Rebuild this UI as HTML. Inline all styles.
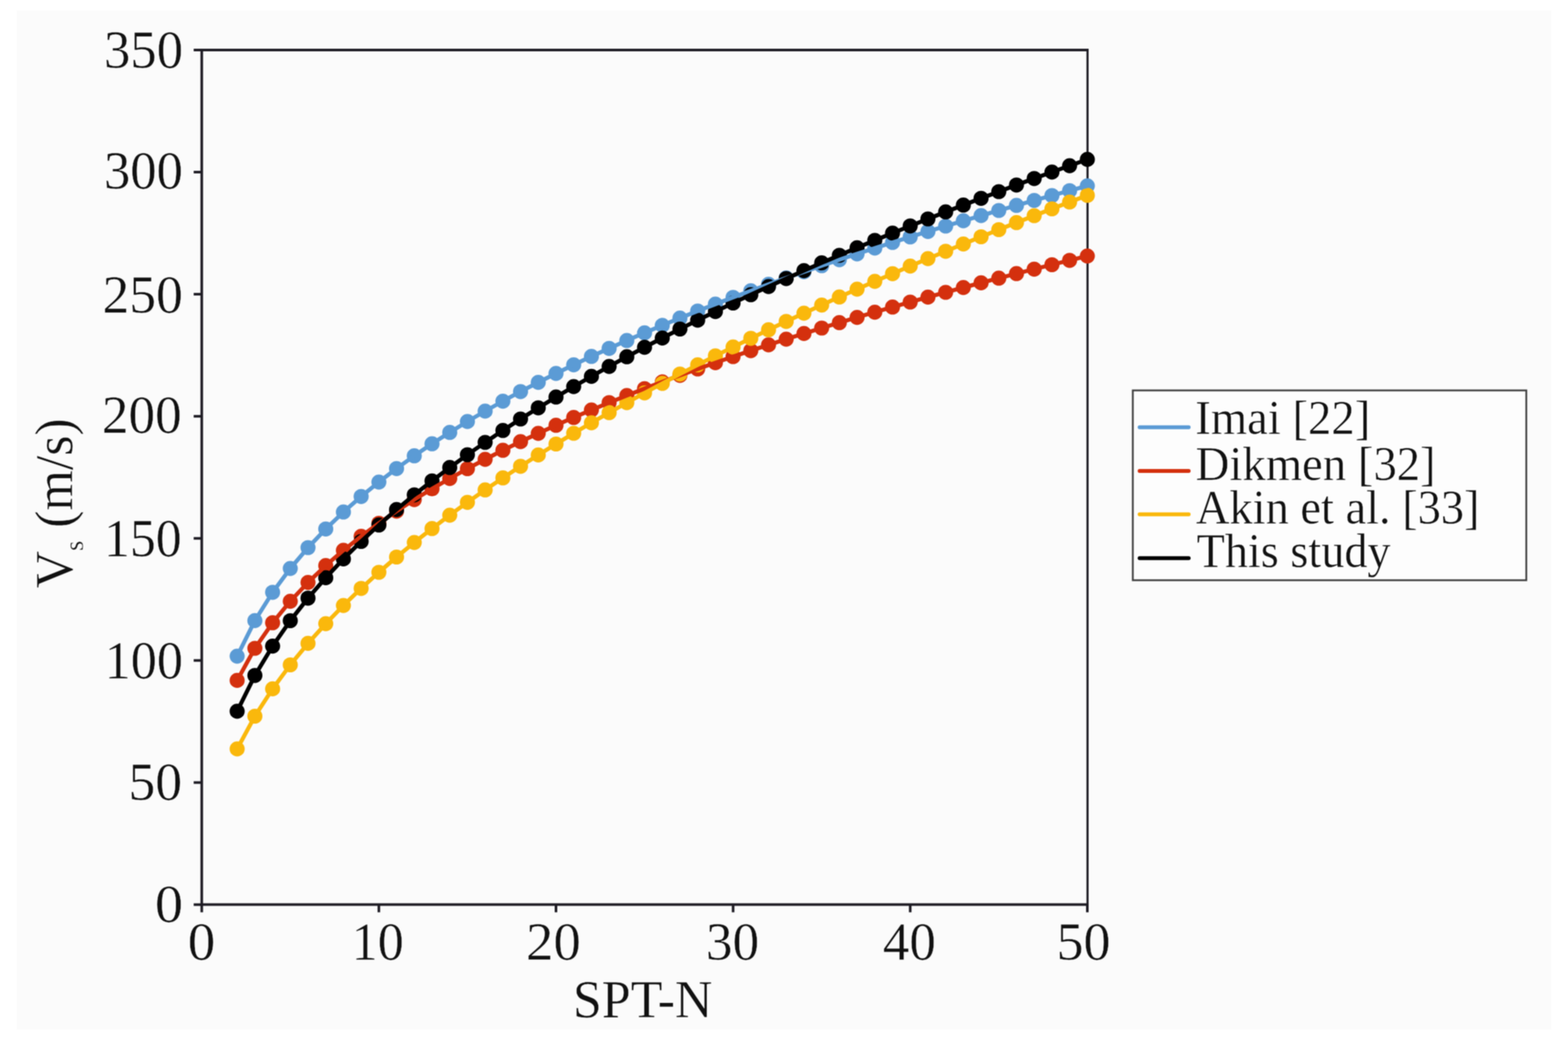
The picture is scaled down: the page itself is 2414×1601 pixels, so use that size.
<!DOCTYPE html>
<html lang="en"><head><meta charset="utf-8"><title>Vs versus SPT-N</title>
<style>
html,body{margin:0;padding:0;background:#fff;}
body{width:2414px;height:1601px;overflow:hidden;}
svg{display:block;}
text{font-family:"Liberation Serif","Times New Roman",Times,serif;fill:#111111;stroke:#fbfbfb;stroke-width:0.5px;stroke-linejoin:round;}
</style></head><body>
<svg width="2414" height="1601" viewBox="0 0 2414 1601" role="img" aria-label="Shear wave velocity versus SPT-N">
<defs><filter id="soft" x="0" y="0" width="2414" height="1601" filterUnits="userSpaceOnUse" color-interpolation-filters="sRGB"><feConvolveMatrix order="3" kernelMatrix="1 2 1 2 4 2 1 2 1" edgeMode="duplicate" preserveAlpha="true"/></filter></defs>
<g filter="url(#soft)">
<rect x="0" y="0" width="2414" height="1601" fill="#ffffff"/>
<rect x="26" y="16" width="2362" height="1569" fill="#fbfbfb"/>
<g stroke="#1e1c24" stroke-width="4" fill="none" stroke-linecap="butt">
<path d="M310.6 75 V1394.6 M308.6 77 H1675.8 M308.6 1392.6 H1675.8"/>
<path d="M1674.3 75 V1394.6" stroke-width="3.3"/>
<line x1="298.2" y1="1392.60" x2="310.6" y2="1392.60"/>
<line x1="298.2" y1="1204.66" x2="310.6" y2="1204.66"/>
<line x1="298.2" y1="1016.71" x2="310.6" y2="1016.71"/>
<line x1="298.2" y1="828.77" x2="310.6" y2="828.77"/>
<line x1="298.2" y1="640.83" x2="310.6" y2="640.83"/>
<line x1="298.2" y1="452.89" x2="310.6" y2="452.89"/>
<line x1="298.2" y1="264.94" x2="310.6" y2="264.94"/>
<line x1="298.2" y1="77.00" x2="310.6" y2="77.00"/>
<line x1="310.60" y1="1392.6" x2="310.60" y2="1404.4"/>
<line x1="583.28" y1="1392.6" x2="583.28" y2="1404.4"/>
<line x1="855.96" y1="1392.6" x2="855.96" y2="1404.4"/>
<line x1="1128.64" y1="1392.6" x2="1128.64" y2="1404.4"/>
<line x1="1401.32" y1="1392.6" x2="1401.32" y2="1404.4"/>
<line x1="1674.00" y1="1392.6" x2="1674.00" y2="1404.4"/>
</g>
<rect x="1744" y="601" width="605.8" height="292.2" fill="#fdfdfd" stroke="#404040" stroke-width="2.8"/>
<text transform="translate(159.94,103.80) scale(0.9817,1)" font-size="82.8">350</text>
<text transform="translate(159.95,289.78) scale(0.9799,1)" font-size="82.8">300</text>
<text transform="translate(157.71,481.17) scale(0.9985,1)" font-size="82.8">250</text>
<text transform="translate(156.74,666.18) scale(0.9908,1)" font-size="82.8">200</text>
<text transform="translate(160.06,855.62) scale(0.9633,1)" font-size="82.8">150</text>
<text transform="translate(161.00,1044.28) scale(0.9712,1)" font-size="82.8">100</text>
<text transform="translate(197.65,1231.18) scale(0.9993,1)" font-size="82.8">50</text>
<text transform="translate(238.52,1418.62) scale(1.0468,1)" font-size="82.8">0</text>
<text transform="translate(288.99,1477.12) scale(1.0266,1)" font-size="82.8">0</text>
<text transform="translate(541.30,1477.13) scale(0.9709,1)" font-size="82.8">10</text>
<text transform="translate(809.72,1477.13) scale(1.0198,1)" font-size="82.8">20</text>
<text transform="translate(1086.80,1477.13) scale(0.9911,1)" font-size="82.8">30</text>
<text transform="translate(1359.26,1477.13) scale(0.9865,1)" font-size="82.8">40</text>
<text transform="translate(1626.41,1477.13) scale(1.0074,1)" font-size="82.8">50</text>
<text transform="translate(881.89,1565.80) scale(0.9784,1)" font-size="81.8">SPT-N</text>
<text transform="translate(1840.24,667.90) scale(0.9803,1)" font-size="73.3">Imai [22]</text>
<text transform="translate(1840.80,738.90) scale(0.9811,1)" font-size="73.3">Dikmen [32]</text>
<text transform="translate(1841.25,805.80) scale(0.9750,1)" font-size="73.3">Akin et al. [33]</text>
<text transform="translate(1842.19,872.80) scale(0.9718,1)" font-size="73.3">This study</text>
<text transform="translate(110.88,905.76) rotate(-90) scale(0.9768,1)" font-size="81.8">V<tspan font-size="41" dy="17" stroke-width="0.4">s</tspan><tspan dy="-17"> (m/s)</tspan></text>
<g fill="#5b9bd5" stroke="none">
<circle cx="365.1" cy="1010.1" r="11.6"/>
<circle cx="392.4" cy="955.4" r="11.6"/>
<circle cx="419.7" cy="911.8" r="11.6"/>
<circle cx="446.9" cy="875.1" r="11.6"/>
<circle cx="474.2" cy="843.0" r="11.6"/>
<circle cx="501.5" cy="814.3" r="11.6"/>
<circle cx="528.7" cy="788.2" r="11.6"/>
<circle cx="556.0" cy="764.3" r="11.6"/>
<circle cx="583.3" cy="742.1" r="11.6"/>
<circle cx="610.5" cy="721.3" r="11.6"/>
<circle cx="637.8" cy="701.7" r="11.6"/>
<circle cx="665.1" cy="683.2" r="11.6"/>
<circle cx="692.4" cy="665.7" r="11.6"/>
<circle cx="719.6" cy="648.9" r="11.6"/>
<circle cx="746.9" cy="632.9" r="11.6"/>
<circle cx="774.2" cy="617.6" r="11.6"/>
<circle cx="801.4" cy="602.8" r="11.6"/>
<circle cx="828.7" cy="588.6" r="11.6"/>
<circle cx="856.0" cy="574.9" r="11.6"/>
<circle cx="883.2" cy="561.6" r="11.6"/>
<circle cx="910.5" cy="548.7" r="11.6"/>
<circle cx="937.8" cy="536.3" r="11.6"/>
<circle cx="965.0" cy="524.2" r="11.6"/>
<circle cx="992.3" cy="512.4" r="11.6"/>
<circle cx="1019.6" cy="500.9" r="11.6"/>
<circle cx="1046.8" cy="489.7" r="11.6"/>
<circle cx="1074.1" cy="478.8" r="11.6"/>
<circle cx="1101.4" cy="468.2" r="11.6"/>
<circle cx="1128.6" cy="457.8" r="11.6"/>
<circle cx="1155.9" cy="447.6" r="11.6"/>
<circle cx="1183.2" cy="437.7" r="11.6"/>
<circle cx="1210.4" cy="427.9" r="11.6"/>
<circle cx="1237.7" cy="418.4" r="11.6"/>
<circle cx="1265.0" cy="409.0" r="11.6"/>
<circle cx="1292.2" cy="399.8" r="11.6"/>
<circle cx="1319.5" cy="390.8" r="11.6"/>
<circle cx="1346.8" cy="381.9" r="11.6"/>
<circle cx="1374.1" cy="373.2" r="11.6"/>
<circle cx="1401.3" cy="364.7" r="11.6"/>
<circle cx="1428.6" cy="356.3" r="11.6"/>
<circle cx="1455.9" cy="348.0" r="11.6"/>
<circle cx="1483.1" cy="339.9" r="11.6"/>
<circle cx="1510.4" cy="331.9" r="11.6"/>
<circle cx="1537.7" cy="324.0" r="11.6"/>
<circle cx="1564.9" cy="316.2" r="11.6"/>
<circle cx="1592.2" cy="308.5" r="11.6"/>
<circle cx="1619.5" cy="301.0" r="11.6"/>
<circle cx="1646.7" cy="293.5" r="11.6"/>
<circle cx="1674.0" cy="286.1" r="11.6"/>
</g>
<g fill="#d4300e" stroke="none">
<circle cx="365.1" cy="1047.4" r="11.6"/>
<circle cx="392.4" cy="998.0" r="11.6"/>
<circle cx="419.7" cy="958.7" r="11.6"/>
<circle cx="446.9" cy="925.6" r="11.6"/>
<circle cx="474.2" cy="896.6" r="11.6"/>
<circle cx="501.5" cy="870.7" r="11.6"/>
<circle cx="528.7" cy="847.2" r="11.6"/>
<circle cx="556.0" cy="825.6" r="11.6"/>
<circle cx="583.3" cy="805.5" r="11.6"/>
<circle cx="610.5" cy="786.8" r="11.6"/>
<circle cx="637.8" cy="769.1" r="11.6"/>
<circle cx="665.1" cy="752.5" r="11.6"/>
<circle cx="692.4" cy="736.6" r="11.6"/>
<circle cx="719.6" cy="721.5" r="11.6"/>
<circle cx="746.9" cy="707.1" r="11.6"/>
<circle cx="774.2" cy="693.2" r="11.6"/>
<circle cx="801.4" cy="679.9" r="11.6"/>
<circle cx="828.7" cy="667.1" r="11.6"/>
<circle cx="856.0" cy="654.7" r="11.6"/>
<circle cx="883.2" cy="642.7" r="11.6"/>
<circle cx="910.5" cy="631.1" r="11.6"/>
<circle cx="937.8" cy="619.8" r="11.6"/>
<circle cx="965.0" cy="608.9" r="11.6"/>
<circle cx="992.3" cy="598.3" r="11.6"/>
<circle cx="1019.6" cy="587.9" r="11.6"/>
<circle cx="1046.8" cy="577.8" r="11.6"/>
<circle cx="1074.1" cy="568.0" r="11.6"/>
<circle cx="1101.4" cy="558.4" r="11.6"/>
<circle cx="1128.6" cy="549.0" r="11.6"/>
<circle cx="1155.9" cy="539.8" r="11.6"/>
<circle cx="1183.2" cy="530.9" r="11.6"/>
<circle cx="1210.4" cy="522.1" r="11.6"/>
<circle cx="1237.7" cy="513.4" r="11.6"/>
<circle cx="1265.0" cy="505.0" r="11.6"/>
<circle cx="1292.2" cy="496.7" r="11.6"/>
<circle cx="1319.5" cy="488.6" r="11.6"/>
<circle cx="1346.8" cy="480.6" r="11.6"/>
<circle cx="1374.1" cy="472.7" r="11.6"/>
<circle cx="1401.3" cy="465.0" r="11.6"/>
<circle cx="1428.6" cy="457.4" r="11.6"/>
<circle cx="1455.9" cy="450.0" r="11.6"/>
<circle cx="1483.1" cy="442.6" r="11.6"/>
<circle cx="1510.4" cy="435.4" r="11.6"/>
<circle cx="1537.7" cy="428.2" r="11.6"/>
<circle cx="1564.9" cy="421.2" r="11.6"/>
<circle cx="1592.2" cy="414.3" r="11.6"/>
<circle cx="1619.5" cy="407.5" r="11.6"/>
<circle cx="1646.7" cy="400.8" r="11.6"/>
<circle cx="1674.0" cy="394.1" r="11.6"/>
</g>
<g fill="#fab80c" stroke="none">
<circle cx="365.1" cy="1152.9" r="11.6"/>
<circle cx="392.4" cy="1102.5" r="11.6"/>
<circle cx="419.7" cy="1060.4" r="11.6"/>
<circle cx="446.9" cy="1023.5" r="11.6"/>
<circle cx="474.2" cy="990.4" r="11.6"/>
<circle cx="501.5" cy="960.1" r="11.6"/>
<circle cx="528.7" cy="932.1" r="11.6"/>
<circle cx="556.0" cy="905.8" r="11.6"/>
<circle cx="583.3" cy="881.0" r="11.6"/>
<circle cx="610.5" cy="857.5" r="11.6"/>
<circle cx="637.8" cy="835.1" r="11.6"/>
<circle cx="665.1" cy="813.7" r="11.6"/>
<circle cx="692.4" cy="793.1" r="11.6"/>
<circle cx="719.6" cy="773.3" r="11.6"/>
<circle cx="746.9" cy="754.2" r="11.6"/>
<circle cx="774.2" cy="735.7" r="11.6"/>
<circle cx="801.4" cy="717.8" r="11.6"/>
<circle cx="828.7" cy="700.4" r="11.6"/>
<circle cx="856.0" cy="683.5" r="11.6"/>
<circle cx="883.2" cy="667.0" r="11.6"/>
<circle cx="910.5" cy="650.9" r="11.6"/>
<circle cx="937.8" cy="635.2" r="11.6"/>
<circle cx="965.0" cy="619.9" r="11.6"/>
<circle cx="992.3" cy="604.9" r="11.6"/>
<circle cx="1019.6" cy="590.2" r="11.6"/>
<circle cx="1046.8" cy="575.8" r="11.6"/>
<circle cx="1074.1" cy="561.7" r="11.6"/>
<circle cx="1101.4" cy="547.8" r="11.6"/>
<circle cx="1128.6" cy="534.2" r="11.6"/>
<circle cx="1155.9" cy="520.8" r="11.6"/>
<circle cx="1183.2" cy="507.7" r="11.6"/>
<circle cx="1210.4" cy="494.8" r="11.6"/>
<circle cx="1237.7" cy="482.1" r="11.6"/>
<circle cx="1265.0" cy="469.6" r="11.6"/>
<circle cx="1292.2" cy="457.2" r="11.6"/>
<circle cx="1319.5" cy="445.1" r="11.6"/>
<circle cx="1346.8" cy="433.1" r="11.6"/>
<circle cx="1374.1" cy="421.3" r="11.6"/>
<circle cx="1401.3" cy="409.6" r="11.6"/>
<circle cx="1428.6" cy="398.1" r="11.6"/>
<circle cx="1455.9" cy="386.8" r="11.6"/>
<circle cx="1483.1" cy="375.6" r="11.6"/>
<circle cx="1510.4" cy="364.5" r="11.6"/>
<circle cx="1537.7" cy="353.5" r="11.6"/>
<circle cx="1564.9" cy="342.7" r="11.6"/>
<circle cx="1592.2" cy="332.0" r="11.6"/>
<circle cx="1619.5" cy="321.5" r="11.6"/>
<circle cx="1646.7" cy="311.0" r="11.6"/>
<circle cx="1674.0" cy="300.7" r="11.6"/>
</g>
<g fill="#000000" stroke="none">
<circle cx="365.1" cy="1094.9" r="11.6"/>
<circle cx="392.4" cy="1039.8" r="11.6"/>
<circle cx="419.7" cy="994.6" r="11.6"/>
<circle cx="446.9" cy="955.5" r="11.6"/>
<circle cx="474.2" cy="920.8" r="11.6"/>
<circle cx="501.5" cy="889.4" r="11.6"/>
<circle cx="528.7" cy="860.4" r="11.6"/>
<circle cx="556.0" cy="833.5" r="11.6"/>
<circle cx="583.3" cy="808.2" r="11.6"/>
<circle cx="610.5" cy="784.4" r="11.6"/>
<circle cx="637.8" cy="761.8" r="11.6"/>
<circle cx="665.1" cy="740.3" r="11.6"/>
<circle cx="692.4" cy="719.7" r="11.6"/>
<circle cx="719.6" cy="700.0" r="11.6"/>
<circle cx="746.9" cy="681.0" r="11.6"/>
<circle cx="774.2" cy="662.7" r="11.6"/>
<circle cx="801.4" cy="645.0" r="11.6"/>
<circle cx="828.7" cy="627.8" r="11.6"/>
<circle cx="856.0" cy="611.2" r="11.6"/>
<circle cx="883.2" cy="595.1" r="11.6"/>
<circle cx="910.5" cy="579.4" r="11.6"/>
<circle cx="937.8" cy="564.1" r="11.6"/>
<circle cx="965.0" cy="549.2" r="11.6"/>
<circle cx="992.3" cy="534.6" r="11.6"/>
<circle cx="1019.6" cy="520.4" r="11.6"/>
<circle cx="1046.8" cy="506.5" r="11.6"/>
<circle cx="1074.1" cy="492.9" r="11.6"/>
<circle cx="1101.4" cy="479.6" r="11.6"/>
<circle cx="1128.6" cy="466.5" r="11.6"/>
<circle cx="1155.9" cy="453.7" r="11.6"/>
<circle cx="1183.2" cy="441.1" r="11.6"/>
<circle cx="1210.4" cy="428.8" r="11.6"/>
<circle cx="1237.7" cy="416.6" r="11.6"/>
<circle cx="1265.0" cy="404.7" r="11.6"/>
<circle cx="1292.2" cy="393.0" r="11.6"/>
<circle cx="1319.5" cy="381.4" r="11.6"/>
<circle cx="1346.8" cy="370.0" r="11.6"/>
<circle cx="1374.1" cy="358.9" r="11.6"/>
<circle cx="1401.3" cy="347.8" r="11.6"/>
<circle cx="1428.6" cy="337.0" r="11.6"/>
<circle cx="1455.9" cy="326.2" r="11.6"/>
<circle cx="1483.1" cy="315.7" r="11.6"/>
<circle cx="1510.4" cy="305.3" r="11.6"/>
<circle cx="1537.7" cy="295.0" r="11.6"/>
<circle cx="1564.9" cy="284.8" r="11.6"/>
<circle cx="1592.2" cy="274.8" r="11.6"/>
<circle cx="1619.5" cy="264.9" r="11.6"/>
<circle cx="1646.7" cy="255.1" r="11.6"/>
<circle cx="1674.0" cy="245.4" r="11.6"/>
</g>
<polyline fill="none" stroke="#5b9bd5" stroke-width="6.3" stroke-linejoin="round" stroke-linecap="round" points="365.1,1010.1 392.4,955.4 419.7,911.8 446.9,875.1 474.2,843.0 501.5,814.3 528.7,788.2 556.0,764.3 583.3,742.1 610.5,721.3 637.8,701.7 665.1,683.2 692.4,665.7 719.6,648.9 746.9,632.9 774.2,617.6 801.4,602.8 828.7,588.6 856.0,574.9 883.2,561.6 910.5,548.7 937.8,536.3 965.0,524.2 992.3,512.4 1019.6,500.9 1046.8,489.7 1074.1,478.8 1101.4,468.2 1128.6,457.8 1155.9,447.6 1183.2,437.7 1210.4,427.9 1237.7,418.4 1265.0,409.0 1292.2,399.8 1319.5,390.8 1346.8,381.9 1374.1,373.2 1401.3,364.7 1428.6,356.3 1455.9,348.0 1483.1,339.9 1510.4,331.9 1537.7,324.0 1564.9,316.2 1592.2,308.5 1619.5,301.0 1646.7,293.5 1674.0,286.1"/>
<polyline fill="none" stroke="#d4300e" stroke-width="6.3" stroke-linejoin="round" stroke-linecap="round" points="365.1,1047.4 392.4,998.0 419.7,958.7 446.9,925.6 474.2,896.6 501.5,870.7 528.7,847.2 556.0,825.6 583.3,805.5 610.5,786.8 637.8,769.1 665.1,752.5 692.4,736.6 719.6,721.5 746.9,707.1 774.2,693.2 801.4,679.9 828.7,667.1 856.0,654.7 883.2,642.7 910.5,631.1 937.8,619.8 965.0,608.9 992.3,598.3 1019.6,587.9 1046.8,577.8 1074.1,568.0 1101.4,558.4 1128.6,549.0 1155.9,539.8 1183.2,530.9 1210.4,522.1 1237.7,513.4 1265.0,505.0 1292.2,496.7 1319.5,488.6 1346.8,480.6 1374.1,472.7 1401.3,465.0 1428.6,457.4 1455.9,450.0 1483.1,442.6 1510.4,435.4 1537.7,428.2 1564.9,421.2 1592.2,414.3 1619.5,407.5 1646.7,400.8 1674.0,394.1"/>
<polyline fill="none" stroke="#fab80c" stroke-width="6.3" stroke-linejoin="round" stroke-linecap="round" points="365.1,1152.9 392.4,1102.5 419.7,1060.4 446.9,1023.5 474.2,990.4 501.5,960.1 528.7,932.1 556.0,905.8 583.3,881.0 610.5,857.5 637.8,835.1 665.1,813.7 692.4,793.1 719.6,773.3 746.9,754.2 774.2,735.7 801.4,717.8 828.7,700.4 856.0,683.5 883.2,667.0 910.5,650.9 937.8,635.2 965.0,619.9 992.3,604.9 1019.6,590.2 1046.8,575.8 1074.1,561.7 1101.4,547.8 1128.6,534.2 1155.9,520.8 1183.2,507.7 1210.4,494.8 1237.7,482.1 1265.0,469.6 1292.2,457.2 1319.5,445.1 1346.8,433.1 1374.1,421.3 1401.3,409.6 1428.6,398.1 1455.9,386.8 1483.1,375.6 1510.4,364.5 1537.7,353.5 1564.9,342.7 1592.2,332.0 1619.5,321.5 1646.7,311.0 1674.0,300.7"/>
<polyline fill="none" stroke="#000000" stroke-width="6.3" stroke-linejoin="round" stroke-linecap="round" points="365.1,1094.9 392.4,1039.8 419.7,994.6 446.9,955.5 474.2,920.8 501.5,889.4 528.7,860.4 556.0,833.5 583.3,808.2 610.5,784.4 637.8,761.8 665.1,740.3 692.4,719.7 719.6,700.0 746.9,681.0 774.2,662.7 801.4,645.0 828.7,627.8 856.0,611.2 883.2,595.1 910.5,579.4 937.8,564.1 965.0,549.2 992.3,534.6 1019.6,520.4 1046.8,506.5 1074.1,492.9 1101.4,479.6 1128.6,466.5 1155.9,453.7 1183.2,441.1 1210.4,428.8 1237.7,416.6 1265.0,404.7 1292.2,393.0 1319.5,381.4 1346.8,370.0 1374.1,358.9 1401.3,347.8 1428.6,337.0 1455.9,326.2 1483.1,315.7 1510.4,305.3 1537.7,295.0 1564.9,284.8 1592.2,274.8 1619.5,264.9 1646.7,255.1 1674.0,245.4"/>
<line x1="1754.5" y1="657.8" x2="1830" y2="657.8" stroke="#5b9bd5" stroke-width="6" stroke-linecap="round"/>
<line x1="1754.5" y1="724.9" x2="1830" y2="724.9" stroke="#d4300e" stroke-width="6" stroke-linecap="round"/>
<line x1="1754.5" y1="791.7" x2="1830" y2="791.7" stroke="#fab80c" stroke-width="6" stroke-linecap="round"/>
<line x1="1754.5" y1="859.2" x2="1830" y2="859.2" stroke="#000000" stroke-width="6" stroke-linecap="round"/>
</g>
</svg>
</body></html>
